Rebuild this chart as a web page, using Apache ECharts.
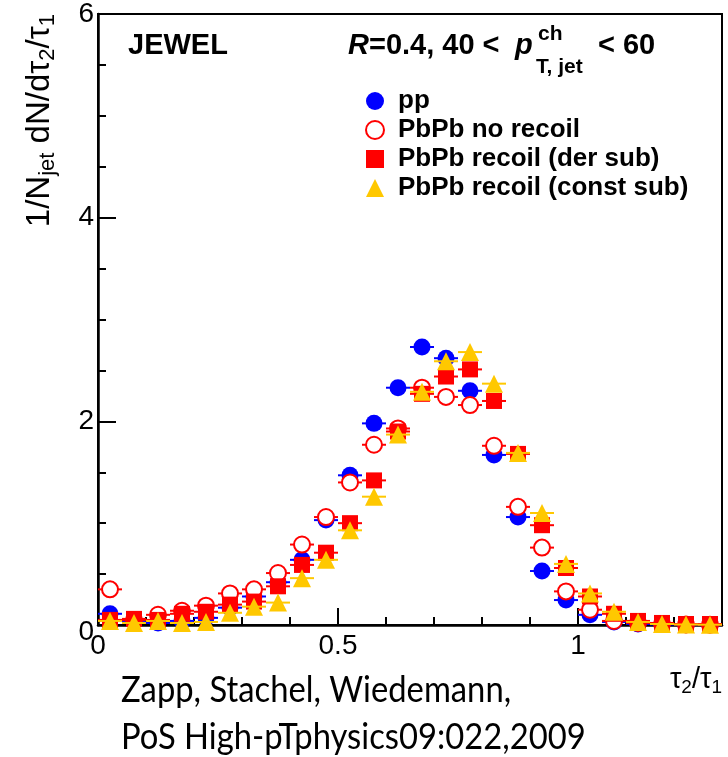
<!DOCTYPE html>
<html>
<head>
<meta charset="utf-8">
<script src="https://cdn.jsdelivr.net/npm/echarts@6/dist/echarts.min.js"></script>
<style>
  html, body { margin: 0; padding: 0; background: #fff; }
  #chart { width: 728px; height: 757px; }
</style>
</head>
<body>
<div id="chart"></div>
<script>
// tau2/tau1 bin centres (bin width 0.05)
const binCenters = [0.025, 0.075, 0.125, 0.175, 0.225, 0.275, 0.325, 0.375, 0.425, 0.475,
  0.525, 0.575, 0.625, 0.675, 0.725, 0.775, 0.825, 0.875, 0.925, 0.975,
  1.025, 1.075, 1.125, 1.175, 1.225, 1.275];
const binHalfWidth = 0.025;

// 1/N_jet dN/d(tau2/tau1) per sample
const ppValues = [0.11, 0.04, 0.02, 0.04, 0.07, 0.17, 0.28, 0.42, 0.64, 1.03,
  1.47, 1.98, 2.33, 2.73, 2.62, 2.30, 1.67, 1.06, 0.53, 0.245,
  0.10, 0.03, 0.01, 0.005, 0.003, 0.002];
const noRecoilValues = [0.35, 0.05, 0.10, 0.14, 0.19, 0.31, 0.35, 0.51, 0.79, 1.06,
  1.40, 1.77, 1.93, 2.33, 2.24, 2.16, 1.76, 1.16, 0.76, 0.33,
  0.15, 0.04, 0.02, 0.01, 0.005, 0.003];
const derSubValues = [0.05, 0.06, 0.05, 0.11, 0.13, 0.20, 0.23, 0.38, 0.59, 0.71,
  1.00, 1.42, 1.90, 2.27, 2.44, 2.51, 2.20, 1.68, 0.98, 0.56,
  0.28, 0.11, 0.04, 0.02, 0.01, 0.01];
const constSubValues = [0.04, 0.02, 0.04, 0.02, 0.03, 0.12, 0.18, 0.22, 0.46, 0.64,
  0.93, 1.26, 1.87, 2.29, 2.59, 2.68, 2.37, 1.69, 1.10, 0.60,
  0.31, 0.13, 0.03, 0.01, 0.005, 0.003];

const seriesNames = ['pp', 'PbPb no recoil', 'PbPb recoil (der sub)', 'PbPb recoil (const sub)'];
const xTickLabels = ['0', '0.5', '1'];
const yTickLabels = ['0', '2', '4', '6'];

const BLUE = '#0000ff';
const RED = '#ff0000';
const GOLD = '#ffc800';
const FONT = '"Liberation Sans", Arial, Helvetica, sans-serif';
const NOTE_FONT = 'Lato, "Open Sans", sans-serif';

function points(values) {
  return binCenters.map((x, i) => [x, values[i]]);
}

// horizontal bin-width bars behind each marker
function binBars(name, values, color, z) {
  return {
    type: 'custom',
    name: name + ' bins',
    z: z,
    silent: true,
    data: points(values),
    renderItem: function (params, api) {
      const x = api.value(0), y = api.value(1);
      const a = api.coord([x - binHalfWidth, y]);
      const b = api.coord([x + binHalfWidth, y]);
      return {
        type: 'line',
        shape: { x1: a[0], y1: a[1], x2: b[0], y2: b[1] },
        style: { stroke: color, lineWidth: 2 }
      };
    }
  };
}

function markers(name, values, symbol, size, itemStyle, z) {
  return {
    type: 'scatter',
    name: name,
    z: z,
    symbol: symbol,
    symbolSize: size,
    data: points(values),
    itemStyle: Object.assign({ opacity: 1 }, itemStyle),
    emphasis: { disabled: true },
    clip: true
  };
}

const chart = echarts.init(document.getElementById('chart'), null, { renderer: 'canvas' });

chart.setOption({
  animation: false,
  backgroundColor: '#fff',
  grid: {
    left: 98, top: 14, width: 624, height: 611,
    show: true, borderColor: '#000', borderWidth: 2, backgroundColor: 'transparent'
  },
  xAxis: {
    type: 'value', min: 0, max: 1.3, interval: 0.5,
    axisLine: { show: true, onZero: false, lineStyle: { color: '#000', width: 2.5 } },
    axisTick: { show: true, inside: true, length: 17, lineStyle: { color: '#000', width: 2 } },
    minorTick: { show: true, splitNumber: 5, length: 8, lineStyle: { color: '#000', width: 2 } },
    splitLine: { show: false },
    axisLabel: {
      margin: 7, color: '#000', fontFamily: FONT, fontSize: 28,
      formatter: function (v) {
        const s = String(+v.toFixed(2));
        return xTickLabels.indexOf(s) >= 0 ? s : '';
      }
    }
  },
  yAxis: {
    type: 'value', min: 0, max: 6, interval: 2,
    axisLine: { show: true, lineStyle: { color: '#000', width: 2.5 } },
    axisTick: { show: true, inside: true, length: 18, lineStyle: { color: '#000', width: 2 } },
    minorTick: { show: true, splitNumber: 4, length: 8, lineStyle: { color: '#000', width: 2 } },
    splitLine: { show: false },
    axisLabel: {
      margin: 4, color: '#000', fontFamily: FONT, fontSize: 28,
      formatter: function (v) {
        const s = String(v);
        if (s === '0') return '{low|0}';
        return yTickLabels.indexOf(s) >= 0 ? s : '';
      },
      rich: { low: { fontFamily: FONT, fontSize: 28, color: '#000', padding: [14, 0, 0, 0] } }
    }
  },
  legend: {
    data: seriesNames,
    orient: 'vertical',
    left: 360, top: 83,
    itemWidth: 18, itemHeight: 18, itemGap: 3,
    selectedMode: false,
    textStyle: { fontFamily: FONT, fontSize: 26, fontWeight: 'bold', color: '#000', padding: [0, 0, 0, 9] }
  },
  series: [
    binBars(seriesNames[0], ppValues, BLUE, 2),
    markers(seriesNames[0], ppValues, 'circle', 17, { color: BLUE }, 3),
    binBars(seriesNames[1], noRecoilValues, RED, 4),
    markers(seriesNames[1], noRecoilValues, 'emptyCircle', 16,
      { color: RED, borderColor: RED, borderWidth: 1.5 }, 5),
    binBars(seriesNames[2], derSubValues, RED, 6),
    markers(seriesNames[2], derSubValues, 'rect', 16, { color: RED }, 7),
    binBars(seriesNames[3], constSubValues, GOLD, 8),
    markers(seriesNames[3], constSubValues, 'triangle', 18, { color: GOLD }, 9)
  ],
  graphic: [
    { type: 'text', x: 128, y: 46,
      style: { text: 'JEWEL', font: 'bold 29px ' + FONT, fill: '#000', verticalAlign: 'middle' } },
    { type: 'text', x: 348, y: 46,
      style: {
        text: '{i|R}=0.4, 40 <',
        font: 'bold 29px ' + FONT, fill: '#000', verticalAlign: 'middle',
        rich: { i: { font: 'italic bold 29px ' + FONT, fill: '#000' } }
      } },
    { type: 'text', x: 515, y: 46,
      style: { text: 'p', font: 'italic bold 29px ' + FONT, fill: '#000', verticalAlign: 'middle' } },
    { type: 'text', x: 538, y: 34,
      style: { text: 'ch', font: 'bold 21px ' + FONT, fill: '#000', verticalAlign: 'middle' } },
    { type: 'text', x: 536, y: 67,
      style: { text: 'T, jet', font: 'bold 21px ' + FONT, fill: '#000', verticalAlign: 'middle' } },
    { type: 'text', x: 598, y: 46,
      style: { text: '< 60', font: 'bold 29px ' + FONT, fill: '#000', verticalAlign: 'middle' } },
    // y-axis title, rotated, aligned to the top end
    { type: 'text', x: 40, y: 14, rotation: Math.PI / 2,
      style: {
        text: '1/N{s|jet} dN/dτ{s|2}/τ{s|1}',
        font: '33px ' + FONT, fill: '#000', align: 'right', verticalAlign: 'middle',
        rich: { s: { font: '22px ' + FONT, fill: '#000', verticalAlign: 'bottom', padding: [15, 0, 0, 0] } }
      } },
    // x-axis title
    { type: 'text', x: 722, y: 680,
      style: {
        text: 'τ{s|2}/τ{s|1}',
        font: '29px ' + FONT, fill: '#000', align: 'right', verticalAlign: 'middle',
        rich: { s: { font: '19px ' + FONT, fill: '#000', verticalAlign: 'bottom', padding: [15, 0, 0, 0] } }
      } },
    { type: 'text', x: 121, y: 690, scaleX: 0.91,
      style: { text: 'Zapp, Stachel, Wiedemann,', font: '36px ' + NOTE_FONT, fill: '#000', verticalAlign: 'middle' } },
    { type: 'text', x: 121, y: 737, scaleX: 0.91,
      style: { text: 'PoS High-pTphysics09:022,2009', font: '36px ' + NOTE_FONT, fill: '#000', verticalAlign: 'middle' } }
  ]
});
</script>
</body>
</html>
